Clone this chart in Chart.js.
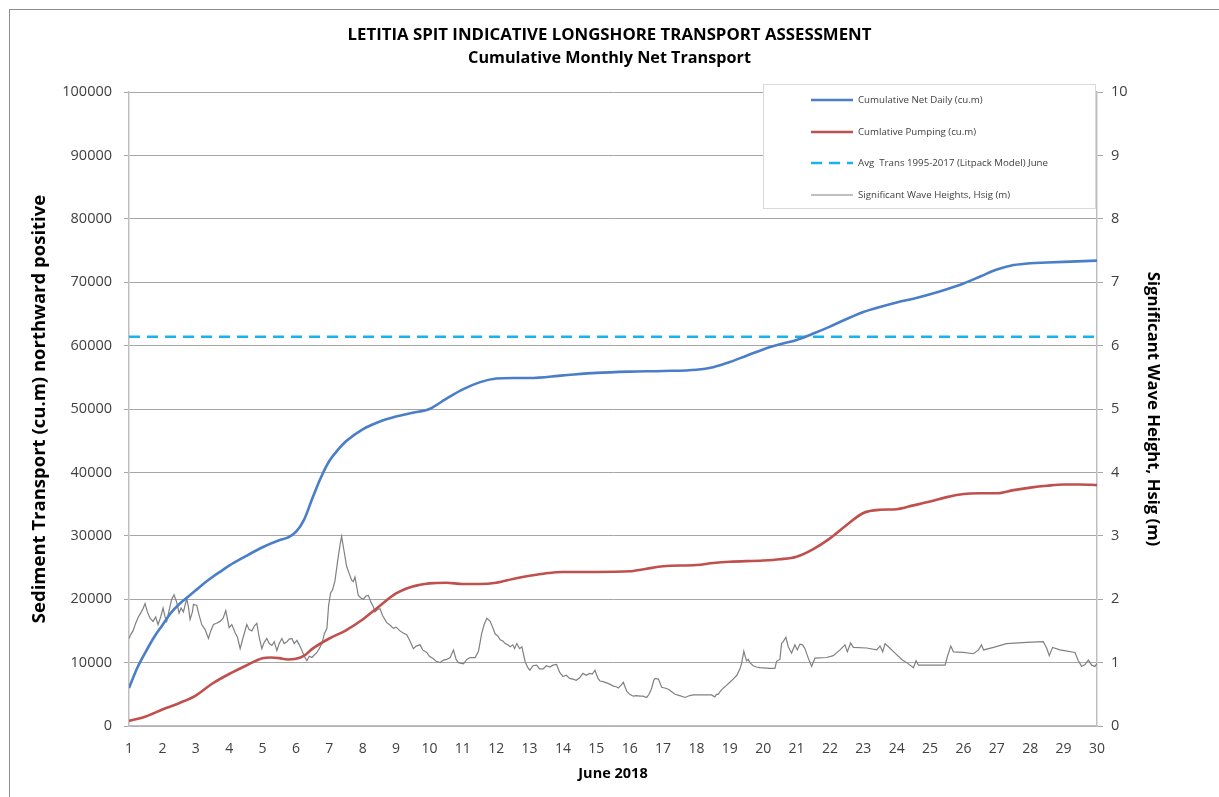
<!DOCTYPE html>
<html>
<head>
<meta charset="utf-8">
<script src="https://cdn.jsdelivr.net/npm/chart.js@4.4.1/dist/chart.umd.min.js"></script>
<style>
  html, body { margin: 0; padding: 0; background: #ffffff; }
  #wrap { position: relative; width: 1219px; height: 797px; }
</style>
</head>
<body>
<div id="wrap"><canvas id="transportChart" width="1219" height="797"></canvas></div>
<script>
// Cumulative net daily transport (cu.m)
const netDay = [1, 1.25, 1.5, 1.75, 2, 2.25, 2.5, 2.75, 3, 3.25, 3.5, 3.75, 4, 4.5, 5, 5.5, 5.75, 6, 6.25, 6.5, 6.75, 7, 7.25, 7.5, 8, 8.5, 9, 9.5, 10, 10.5, 11, 11.5, 12, 12.5, 13, 14, 15, 16, 17, 18, 18.5, 19, 19.5, 20, 20.5, 21, 21.5, 22, 22.5, 23, 23.5, 24, 24.5, 25, 25.5, 26, 26.5, 27, 27.5, 28, 28.5, 29, 30];
const netCum = [6000, 9200, 11700, 14000, 15900, 17800, 19200, 20300, 21400, 22500, 23500, 24400, 25300, 26800, 28200, 29300, 29700, 30600, 32600, 36000, 39200, 41800, 43500, 44900, 46800, 48000, 48800, 49400, 50000, 51600, 53100, 54200, 54800, 54900, 54900, 55300, 55700, 55900, 56000, 56200, 56600, 57400, 58400, 59400, 60200, 60900, 61900, 63000, 64200, 65300, 66100, 66800, 67400, 68100, 68900, 69800, 70900, 72000, 72700, 73000, 73100, 73200, 73400];

// Cumulative pumping (cu.m)
const pumpDay = [1, 1.5, 2, 2.5, 3, 3.5, 4, 4.5, 5, 5.25, 5.5, 5.75, 6, 6.25, 6.5, 7, 7.5, 8, 8.5, 9, 9.5, 10, 10.5, 11, 11.5, 12, 12.5, 13, 13.5, 14, 15, 16, 16.5, 17, 18, 18.5, 19, 20, 20.5, 21, 21.5, 22, 22.5, 23, 23.5, 24, 24.5, 25, 25.5, 26, 26.5, 27, 27.5, 28, 28.5, 29, 29.5, 30];
const pumpCum = [800, 1500, 2600, 3600, 4800, 6700, 8200, 9500, 10700, 10800, 10700, 10500, 10600, 11100, 12200, 13800, 15100, 16800, 18900, 20900, 22000, 22500, 22600, 22400, 22400, 22600, 23200, 23700, 24100, 24300, 24300, 24400, 24800, 25200, 25400, 25700, 25900, 26100, 26300, 26700, 27900, 29600, 31700, 33600, 34100, 34200, 34800, 35400, 36100, 36600, 36700, 36700, 37200, 37600, 37900, 38100, 38100, 38000];

// Average June transport 1995-2017 (Litpack model)
const avgTrans = 61400;

// Significant wave height, Hsig (m)
const waveDay = [1.0, 1.06, 1.12, 1.2, 1.28, 1.35, 1.42, 1.48, 1.55, 1.63, 1.72, 1.8, 1.87, 1.95, 2.02, 2.08, 2.13, 2.2, 2.28, 2.35, 2.43, 2.5, 2.56, 2.63, 2.73, 2.78, 2.83, 2.9, 2.93, 3.03, 3.1, 3.18, 3.28, 3.38, 3.45, 3.53, 3.62, 3.73, 3.82, 3.9, 4.0, 4.08, 4.18, 4.25, 4.33, 4.42, 4.53, 4.6, 4.68, 4.76, 4.83, 4.9, 4.98, 5.05, 5.13, 5.2, 5.28, 5.35, 5.43, 5.5, 5.58, 5.65, 5.73, 5.8, 5.88, 5.95, 6.03, 6.1, 6.18, 6.25, 6.33, 6.4, 6.48, 6.55, 6.63, 6.7, 6.78, 6.85, 6.93, 6.98, 7.04, 7.1, 7.17, 7.25, 7.32, 7.37, 7.43, 7.52, 7.6, 7.67, 7.72, 7.77, 7.82, 7.87, 7.95, 8.02, 8.1, 8.17, 8.25, 8.32, 8.37, 8.45, 8.52, 8.6, 8.72, 8.8, 8.92, 9.0, 9.12, 9.2, 9.32, 9.4, 9.52, 9.6, 9.72, 9.8, 9.92, 10.0, 10.12, 10.2, 10.32, 10.42, 10.52, 10.62, 10.72, 10.8, 10.87, 11.02, 11.12, 11.22, 11.37, 11.47, 11.57, 11.64, 11.72, 11.82, 11.9, 11.97, 12.05, 12.12, 12.2, 12.27, 12.35, 12.42, 12.5, 12.55, 12.62, 12.7, 12.77, 12.87, 12.95, 13.01, 13.1, 13.21, 13.3, 13.41, 13.5, 13.61, 13.7, 13.81, 13.9, 14.0, 14.1, 14.2, 14.3, 14.4, 14.5, 14.6, 14.7, 14.8, 14.88, 14.96, 15.05, 15.11, 15.2, 15.31, 15.4, 15.51, 15.6, 15.66, 15.75, 15.81, 15.86, 15.91, 16.0, 16.11, 16.2, 16.31, 16.4, 16.51, 16.58, 16.66, 16.72, 16.76, 16.86, 16.96, 17.05, 17.16, 17.26, 17.36, 17.5, 17.66, 17.8, 17.91, 18.2, 18.45, 18.55, 18.6, 18.65, 18.72, 18.81, 18.9, 19.0, 19.1, 19.21, 19.3, 19.35, 19.42, 19.47, 19.5, 19.55, 19.6, 19.7, 19.8, 19.9, 20.2, 20.35, 20.4, 20.5, 20.55, 20.6, 20.68, 20.75, 20.8, 20.85, 20.95, 21.02, 21.1, 21.18, 21.25, 21.35, 21.45, 21.55, 21.9, 22.1, 22.3, 22.45, 22.52, 22.62, 22.7, 23.1, 23.4, 23.5, 23.58, 23.65, 23.75, 23.95, 24.15, 24.35, 24.5, 24.58, 24.65, 25.45, 25.52, 25.62, 25.7, 26.0, 26.3, 26.45, 26.54, 26.6, 26.9, 27.29, 27.89, 28.39, 28.49, 28.57, 28.67, 28.89, 29.34, 29.44, 29.54, 29.64, 29.74, 29.84, 29.94, 30.0];
const waveHsig = [1.38, 1.45, 1.5, 1.62, 1.72, 1.78, 1.85, 1.93, 1.8, 1.7, 1.65, 1.72, 1.6, 1.72, 1.86, 1.72, 1.65, 1.82, 2.0, 2.07, 1.95, 1.78, 1.86, 1.8, 2.01, 1.88, 1.68, 1.8, 1.92, 1.9, 1.75, 1.6, 1.52, 1.38, 1.5, 1.6, 1.62, 1.65, 1.7, 1.82, 1.55, 1.6, 1.47, 1.4, 1.22, 1.4, 1.6, 1.52, 1.5, 1.58, 1.62, 1.4, 1.22, 1.32, 1.38, 1.3, 1.27, 1.33, 1.19, 1.3, 1.38, 1.3, 1.33, 1.37, 1.38, 1.3, 1.35, 1.28, 1.19, 1.1, 1.03, 1.1, 1.08, 1.12, 1.16, 1.22, 1.3, 1.45, 1.54, 1.9, 2.1, 2.15, 2.29, 2.6, 2.85, 2.99, 2.8, 2.52, 2.4, 2.3, 2.28, 2.35, 2.2, 2.06, 2.02, 2.0, 2.05, 2.06, 1.95, 1.88, 1.8, 1.84, 1.85, 1.74, 1.63, 1.6, 1.54, 1.56, 1.5, 1.47, 1.44, 1.36, 1.22, 1.26, 1.28, 1.2, 1.16, 1.1, 1.06, 1.02, 1.0, 1.04, 1.05, 1.08, 1.2, 1.05, 1.0, 0.98, 1.05, 1.08, 1.08, 1.18, 1.47, 1.6, 1.7, 1.65, 1.55, 1.45, 1.42, 1.36, 1.34, 1.3, 1.28, 1.25, 1.28, 1.22, 1.3, 1.22, 1.25, 1.01, 0.92, 0.88, 0.95, 0.96, 0.9, 0.9, 0.95, 0.93, 0.96, 0.97, 0.85, 0.78, 0.8, 0.75, 0.74, 0.72, 0.76, 0.83, 0.8, 0.83, 0.82, 0.88, 0.75, 0.71, 0.7, 0.68, 0.66, 0.63, 0.62, 0.6, 0.65, 0.69, 0.62, 0.55, 0.5, 0.47, 0.48, 0.47, 0.47, 0.45, 0.5, 0.6, 0.72, 0.75, 0.74, 0.61, 0.6, 0.58, 0.54, 0.5, 0.48, 0.45, 0.48, 0.49, 0.49, 0.49, 0.46, 0.5, 0.5, 0.55, 0.6, 0.64, 0.69, 0.74, 0.8, 0.9, 0.98, 1.18, 1.08, 1.03, 1.05, 1.0, 0.95, 0.93, 0.92, 0.91, 0.91, 1.02, 1.05, 1.3, 1.33, 1.4, 1.25, 1.2, 1.15, 1.28, 1.2, 1.29, 1.28, 1.22, 1.07, 0.94, 1.07, 1.08, 1.11, 1.2, 1.28, 1.17, 1.31, 1.24, 1.23, 1.2, 1.26, 1.17, 1.3, 1.25, 1.15, 1.05, 0.98, 0.92, 1.03, 0.96, 0.96, 1.1, 1.26, 1.17, 1.16, 1.14, 1.2, 1.28, 1.2, 1.24, 1.3, 1.32, 1.33, 1.23, 1.11, 1.24, 1.2, 1.16, 1.03, 0.94, 0.97, 1.04, 0.96, 0.94, 0.99];

const FONT = "'Open Sans', 'Liberation Sans', sans-serif";
const TEXT_COL = '#404040';

const toPoints = (xs, ys) => xs.map((x, i) => ({ x: x, y: ys[i] }));

// grey frame round the whole chart object (only top/left edges fall inside the picture)
const chartFrame = {
    id: 'chartFrame',
    beforeDraw(chart) {
        const { ctx } = chart;
        ctx.save();
        ctx.fillStyle = '#ffffff';
        ctx.fillRect(0, 0, chart.width, chart.height);
        ctx.strokeStyle = '#8c8c8c';
        ctx.lineWidth = 1;
        ctx.strokeRect(9.5, 9.5, chart.width + 50, chart.height + 50);
        ctx.restore();
    }
};

// boxed legend sitting over the top-right of the plot, like the Excel original
const boxLegend = {
    id: 'boxLegend',
    afterDraw(chart) {
        const { ctx } = chart;
        const left = 763, top = 84, w = 332, h = 124;
        ctx.save();
        ctx.fillStyle = '#ffffff';
        ctx.fillRect(left, top, w, h);
        ctx.strokeStyle = '#d9d9d9';
        ctx.lineWidth = 1;
        ctx.strokeRect(left + 0.5, top + 0.5, w, h);
        const rows = [100, 132, 163, 195];
        chart.data.datasets.forEach((ds, i) => {
            const y = rows[i];
            ctx.beginPath();
            ctx.strokeStyle = ds.borderColor;
            ctx.lineWidth = ds.borderWidth;
            ctx.setLineDash(ds.borderDash || []);
            ctx.moveTo(811, y);
            ctx.lineTo(853, y);
            ctx.stroke();
            ctx.setLineDash([]);
            ctx.fillStyle = TEXT_COL;
            ctx.font = "9.7px " + FONT;
            ctx.textBaseline = 'middle';
            ctx.textAlign = 'left';
            ctx.fillText(ds.label, 858, y);
        });
        ctx.restore();
    }
};

const ctx = document.getElementById('transportChart').getContext('2d');

new Chart(ctx, {
    type: 'line',
    data: {
        datasets: [
            {
                label: 'Cumulative Net Daily (cu.m)',
                data: toPoints(netDay, netCum),
                borderColor: '#4a7ec8',
                borderWidth: 2.6,
                pointRadius: 0,
                cubicInterpolationMode: 'monotone',
                yAxisID: 'y'
            },
            {
                label: 'Cumlative Pumping (cu.m)',
                data: toPoints(pumpDay, pumpCum),
                borderColor: '#c0504d',
                borderWidth: 2.6,
                pointRadius: 0,
                cubicInterpolationMode: 'monotone',
                yAxisID: 'y'
            },
            {
                label: 'Avg  Trans 1995-2017 (Litpack Model) June',
                data: [{ x: 1, y: avgTrans }, { x: 30, y: avgTrans }],
                borderColor: '#1ab2ee',
                borderWidth: 2.6,
                borderDash: [11, 7],
                pointRadius: 0,
                yAxisID: 'y'
            },
            {
                label: 'Significant Wave Heights, Hsig (m)',
                data: toPoints(waveDay, waveHsig),
                borderColor: '#808080',
                borderWidth: 1.2,
                pointRadius: 0,
                tension: 0,
                yAxisID: 'y2'
            }
        ]
    },
    options: {
        responsive: false,
        animation: false,
        layout: { padding: 0 },
        plugins: {
            legend: { display: false },
            tooltip: { enabled: false },
            title: {
                display: true,
                text: 'LETITIA SPIT INDICATIVE LONGSHORE TRANSPORT ASSESSMENT',
                color: '#000000',
                font: { family: FONT, size: 16.8, weight: 'bold' },
                padding: { top: 25, bottom: 4 }
            },
            subtitle: {
                display: true,
                text: 'Cumulative Monthly Net Transport',
                color: '#000000',
                font: { family: FONT, size: 16.2, weight: 'bold' },
                padding: { top: 0, bottom: 23.4 }
            }
        },
        scales: {
            x: {
                type: 'linear',
                min: 1,
                max: 30,
                ticks: {
                    stepSize: 1,
                    color: TEXT_COL,
                    font: { family: FONT, size: 14 },
                    padding: 15,
                    maxRotation: 0
                },
                grid: { display: false, drawTicks: false },
                border: { color: '#bfbfbf', width: 1.5 },
                title: {
                    display: true,
                    text: 'June 2018',
                    color: '#000000',
                    font: { family: FONT, size: 14.5, weight: 'bold' },
                    padding: { top: 0, bottom: 14 }
                },
                afterFit(scale) { scale.height = 71; }
            },
            y: {
                position: 'left',
                min: 0,
                max: 100000,
                ticks: {
                    stepSize: 10000,
                    color: TEXT_COL,
                    font: { family: FONT, size: 14.5 },
                    padding: 12,
                    callback: (value) => String(value)
                },
                grid: { color: '#a6a6a6', lineWidth: 1, tickLength: 5 },
                border: { color: '#bfbfbf', width: 1.5 },
                title: {
                    display: true,
                    text: 'Sediment Transport (cu.m) northward positive',
                    color: '#000000',
                    font: { family: FONT, size: 18.5, weight: 'bold' },
                    padding: { top: 29, bottom: 0 }
                },
                afterFit(scale) { scale.width = 129; }
            },
            y2: {
                position: 'right',
                min: 0,
                max: 10,
                ticks: {
                    stepSize: 1,
                    color: TEXT_COL,
                    font: { family: FONT, size: 14.5 },
                    padding: 8
                },
                grid: { drawOnChartArea: false, color: '#a6a6a6', tickLength: 6 },
                border: { color: '#bfbfbf', width: 1.5 },
                title: {
                    display: true,
                    text: 'Significant Wave Height, Hsig (m)',
                    color: '#000000',
                    font: { family: FONT, size: 16.7, weight: 'bold' },
                    padding: { top: 56, bottom: 0 }
                },
                afterFit(scale) { scale.width = 122; }
            }
        }
    },
    plugins: [chartFrame, boxLegend]
});
</script>
</body>
</html>
